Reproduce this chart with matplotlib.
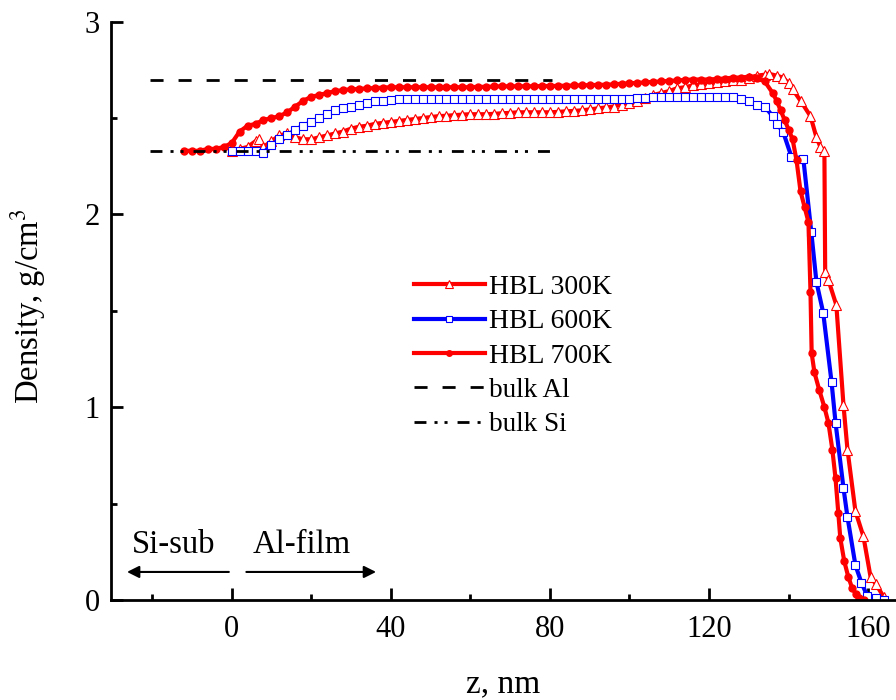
import numpy as np
import matplotlib
matplotlib.use('Agg')
import matplotlib.pyplot as plt

plt.rcParams['font.family'] = ['Liberation Serif', 'DejaVu Serif']
plt.rcParams['mathtext.fontset'] = 'stix'

# HBL 300K (open triangles)
z300 = [0, 2, 4, 6, 7, 8, 10, 12, 14, 16, 18, 20, 22, 24, 26, 28, 30, 32, 34, 36,
        38, 40, 42, 44, 46, 48, 50, 52, 54, 56, 58, 60, 62, 64, 66, 68, 70, 72, 74,
        76, 78, 80, 82, 84, 86, 88, 90, 92, 94, 96, 98, 100, 102, 104, 106, 108, 110,
        112, 114, 116, 118, 120, 122, 124, 126, 128, 130, 132, 134, 135, 137, 138.6,
        140, 141, 143, 145.5, 147, 148, 149, 149.2, 150, 152, 153.8, 154.8, 156.8,
        158.8, 160.6, 162, 163.9]
d300 = [2.33, 2.34, 2.35, 2.38, 2.39, 2.35, 2.38, 2.41, 2.42, 2.40, 2.39, 2.39, 2.40,
        2.41, 2.42, 2.43, 2.445, 2.455, 2.46, 2.47, 2.475, 2.48, 2.485, 2.49, 2.495,
        2.50, 2.505, 2.51, 2.512, 2.515, 2.518, 2.52, 2.52, 2.52, 2.522, 2.525, 2.527,
        2.53, 2.53, 2.53, 2.53, 2.53, 2.532, 2.535, 2.537, 2.54, 2.545, 2.55, 2.555,
        2.56, 2.57, 2.58, 2.59, 2.605, 2.62, 2.63, 2.64, 2.655, 2.66, 2.67, 2.675,
        2.68, 2.685, 2.69, 2.695, 2.70, 2.71, 2.72, 2.725, 2.73, 2.72, 2.71,
        2.68, 2.65, 2.59, 2.51, 2.40, 2.35, 2.33, 1.70, 1.66, 1.53, 1.01, 0.78, 0.46,
        0.33, 0.12, 0.08, 0.016]

# HBL 600K (open squares)
z600 = [0, 2, 4, 6, 8, 10, 12, 14, 16, 18, 20, 22, 24, 26, 28, 30, 32, 34, 36, 38,
        40, 42, 44, 46, 48, 50, 52, 54, 56, 58, 60, 62, 64, 66, 68, 70, 72, 74, 76,
        78, 80, 82, 84, 86, 88, 90, 92, 94, 96, 98, 100, 102, 104, 106, 108, 110,
        112, 114, 116, 118, 120, 122, 124, 126, 128, 130, 132, 134, 136, 137, 138.6,
        140.7, 143.7, 145.7, 147, 148.7, 150.8, 151.8, 153.8, 154.8, 156.8, 158.3,
        159.8, 161.9, 163.9]
d600 = [2.33, 2.33, 2.33, 2.33, 2.32, 2.36, 2.39, 2.41, 2.44, 2.46, 2.48, 2.50, 2.52,
        2.54, 2.55, 2.56, 2.57, 2.58, 2.59, 2.59, 2.595, 2.597, 2.60, 2.60, 2.60,
        2.60, 2.60, 2.60, 2.60, 2.60, 2.60, 2.60, 2.60, 2.60, 2.60, 2.60, 2.60, 2.60,
        2.60, 2.60, 2.60, 2.60, 2.60, 2.60, 2.60, 2.60, 2.60, 2.60, 2.60, 2.60, 2.60,
        2.602, 2.605, 2.607, 2.61, 2.61, 2.61, 2.61, 2.61, 2.61, 2.61, 2.61, 2.61,
        2.61, 2.60, 2.59, 2.57, 2.56, 2.51, 2.47, 2.43, 2.30, 2.29, 1.91, 1.65, 1.49,
        1.13, 0.92, 0.58, 0.43, 0.18, 0.09, 0.02, 0.01, 0.0]

# HBL 700K (filled circles)
z700 = [-12, -10, -8, -6, -4, -2, 0, 2, 4, 6, 8, 10, 12, 14, 16, 18, 20, 22, 24, 26,
        28, 30, 32, 34, 36, 38, 40, 42, 44, 46, 48, 50, 52, 54, 56, 58, 60, 62, 64,
        66, 68, 70, 72, 74, 76, 78, 80, 82, 84, 86, 88, 90, 92, 94, 96, 98, 100, 102,
        104, 106, 108, 110, 112, 114, 116, 118, 120, 122, 124, 126, 128, 130, 132,
        134, 136, 137, 138, 139, 140, 141, 142, 143, 144, 145, 145.5, 145.8, 146.5,
        147.7, 149, 150, 151, 151.8, 152.5, 153, 154, 155, 156, 157, 157.6, 159]
d700 = [2.33, 2.33, 2.33, 2.34, 2.34, 2.35, 2.37, 2.43, 2.46, 2.47, 2.49, 2.50, 2.51,
        2.53, 2.56, 2.59, 2.61, 2.62, 2.63, 2.64, 2.645, 2.65, 2.65, 2.655, 2.655,
        2.658, 2.66, 2.66, 2.66, 2.66, 2.66, 2.66, 2.66, 2.66, 2.66, 2.66, 2.66,
        2.662, 2.662, 2.664, 2.665, 2.665, 2.665, 2.665, 2.665, 2.666, 2.666, 2.667,
        2.668, 2.669, 2.67, 2.671, 2.672, 2.673, 2.675, 2.678, 2.68, 2.683, 2.685,
        2.688, 2.69, 2.693, 2.695, 2.698, 2.70, 2.70, 2.70, 2.703, 2.705, 2.71, 2.71,
        2.715, 2.71, 2.69, 2.63, 2.59, 2.54, 2.49, 2.44, 2.39, 2.28, 2.12, 2.04, 1.96,
        1.60, 1.28, 1.18, 1.09, 1.00, 0.92, 0.78, 0.63, 0.45, 0.32, 0.20, 0.12, 0.06,
        0.03, 0.01, 0.0]

bulk_z = [-20.5, 80.5]
bulk_al = 2.70
bulk_si = 2.33

fig = plt.figure(figsize=(8.96, 7), dpi=100)
ax = fig.add_axes([0.124, 0.143, 0.876, 0.826])

ax.plot(z300, d300, color='red', lw=3, marker='^', ms=6.5, mfc='white', mec='red',
        mew=0.8, label='HBL 300K')
ax.plot(z600, d600, color='blue', lw=3, marker='s', ms=5.5, mfc='white', mec='blue',
        mew=0.8, label='HBL 600K')
ax.plot(z700, d700, color='red', lw=3, marker='o', ms=5, mfc='red', mec='red',
        label='HBL 700K')
ax.plot(bulk_z, [bulk_al, bulk_al], color='black', lw=2, dashes=(4.7, 5.4),
        dash_capstyle='butt', label='bulk Al')
ax.plot(bulk_z, [bulk_si, bulk_si], color='black', lw=2,
        dashes=(4.3, 2.9, 1.1, 2.5, 1.1, 3.6), dash_capstyle='butt', label='bulk Si')

ax.set_xlim(-30.3, 167)
ax.set_ylim(0, 3)
ax.set_xticks([0, 40, 80, 120, 160])
ax.set_xticks([-20, 20, 60, 100, 140], minor=True)
ax.set_yticks([0, 1, 2, 3])
ax.set_yticks([0.5, 1.5, 2.5], minor=True)
ax.tick_params(which='both', direction='in', width=2, labelsize=22)
ax.tick_params(axis='x', pad=11)
ax.tick_params(axis='y', pad=8)
ax.tick_params(which='major', length=8.5)
ax.tick_params(which='minor', length=4)
for s in ['top', 'right']:
    ax.spines[s].set_visible(False)
for s in ['left', 'bottom']:
    ax.spines[s].set_linewidth(2)

ax.set_xlabel('z, nm', fontsize=24, labelpad=18)
ax.set_ylabel('Density, g/cm$^3$', fontsize=23.5)
ax.yaxis.set_label_coords(-0.08, 0.507)

leg = ax.legend(loc='upper left', bbox_to_anchor=(0.354, 0.606), frameon=False,
                fontsize=20, handlelength=2.55, handletextpad=0.15, labelspacing=0.32,
                markerscale=0.8)
for t in leg.get_texts()[3:]:
    t.set_fontsize(19.5)

# Si-sub / Al-film arrows
ax.annotate('', xy=(-27, 0.145), xytext=(0, 0.145),
            arrowprops=dict(arrowstyle='-|>', color='black', lw=1.5, mutation_scale=18))
ax.annotate('', xy=(37, 0.145), xytext=(3, 0.145),
            arrowprops=dict(arrowstyle='-|>', color='black', lw=1.5, mutation_scale=18))
ax.text(-25, 0.244, 'Si-sub', fontsize=23.5)
ax.text(5.3, 0.244, 'Al-film', fontsize=23.5)

fig.savefig('out.png', dpi=100)
